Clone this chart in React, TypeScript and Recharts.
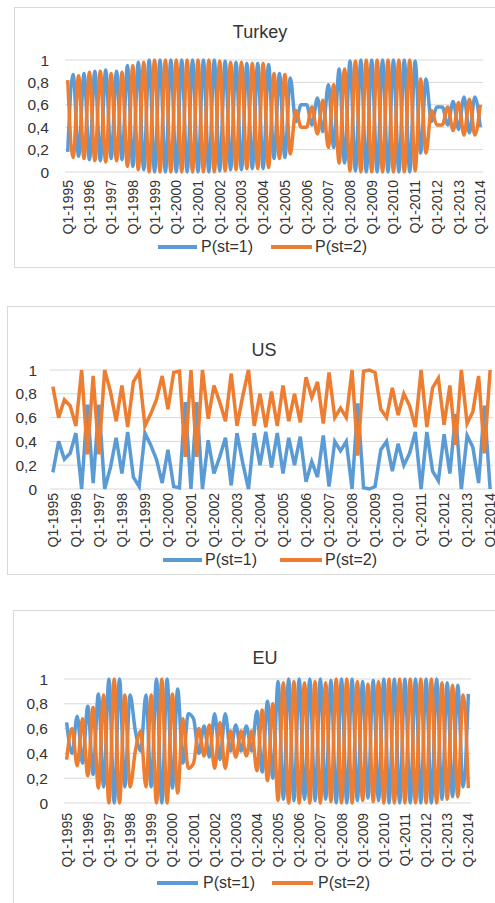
import { LineChart, Line, XAxis, YAxis, CartesianGrid } from 'recharts';

const years = [1995, 1996, 1997, 1998, 1999, 2000, 2001, 2002, 2003, 2004, 2005, 2006, 2007, 2008, 2009, 2010, 2011, 2012, 2013, 2014];
const quarters = ['Q1', 'Q2', 'Q3', 'Q4'];
// Q1-1995 .. Q1-2014
const periods = years.flatMap((y) => quarters.map((q) => `${q}-${y}`)).slice(0, 77);
const yTicks = [0, 0.2, 0.4, 0.6, 0.8, 1];
const seriesNames = ['P(st=1)', 'P(st=2)'];

const turkeyP1 = [
  0.18, 0.87, 0.14, 0.88, 0.11, 0.90, 0.10, 0.91, 0.12, 0.90,
  0.11, 0.95, 0.05, 0.98, 0.02, 1.00, 0.00, 1.00, 0.00, 1.00,
  0.00, 1.00, 0.00, 1.00, 0.00, 1.00, 0.00, 1.00, 0.01, 0.99,
  0.02, 0.98, 0.02, 0.97, 0.03, 0.97, 0.03, 0.96, 0.12, 0.88,
  0.13, 0.84, 0.45, 0.60, 0.60, 0.42, 0.66, 0.36, 0.78, 0.22,
  0.92, 0.08, 0.99, 0.01, 1.00, 0.00, 1.00, 0.00, 1.00, 0.00,
  1.00, 0.00, 1.00, 0.00, 0.99, 0.17, 0.83, 0.45, 0.58, 0.58,
  0.42, 0.63, 0.38, 0.67, 0.35, 0.67, 0.40,
];
const turkeyP2 = [
  0.82, 0.13, 0.86, 0.12, 0.89, 0.10, 0.90, 0.09, 0.88, 0.10,
  0.89, 0.05, 0.95, 0.02, 0.98, 0.00, 1.00, 0.00, 1.00, 0.00,
  1.00, 0.00, 1.00, 0.00, 1.00, 0.00, 1.00, 0.00, 0.99, 0.01,
  0.98, 0.02, 0.98, 0.03, 0.97, 0.03, 0.97, 0.04, 0.88, 0.12,
  0.87, 0.16, 0.55, 0.40, 0.40, 0.58, 0.34, 0.64, 0.22, 0.78,
  0.08, 0.92, 0.01, 0.99, 0.00, 1.00, 0.00, 1.00, 0.00, 1.00,
  0.00, 1.00, 0.00, 1.00, 0.01, 0.83, 0.17, 0.55, 0.42, 0.42,
  0.58, 0.37, 0.62, 0.33, 0.65, 0.33, 0.60,
];

const usP1 = [
  0.14, 0.40, 0.25, 0.30, 0.47, 0.00, 0.71, 0.05, 0.71, 0.00,
  0.18, 0.43, 0.13, 0.48, 0.10, 0.02, 0.47, 0.37, 0.25, 0.05,
  0.33, 0.02, 0.01, 0.73, 0.00, 0.73, 0.00, 0.41, 0.13, 0.27,
  0.43, 0.03, 0.47, 0.22, 0.00, 0.47, 0.20, 0.48, 0.18, 0.47,
  0.13, 0.43, 0.20, 0.44, 0.06, 0.23, 0.10, 0.45, 0.02, 0.40,
  0.32, 0.40, 0.00, 0.72, 0.01, 0.00, 0.02, 0.33, 0.40, 0.15,
  0.38, 0.20, 0.30, 0.48, 0.00, 0.48, 0.15, 0.07, 0.46, 0.13,
  0.63, 0.00, 0.45, 0.35, 0.05, 0.70, 0.00,
];
const usP2 = [
  0.86, 0.60, 0.75, 0.70, 0.53, 1.00, 0.29, 0.95, 0.29, 1.00,
  0.82, 0.57, 0.87, 0.52, 0.90, 0.98, 0.53, 0.63, 0.75, 0.95,
  0.67, 0.98, 0.99, 0.27, 1.00, 0.27, 1.00, 0.59, 0.87, 0.73,
  0.57, 0.97, 0.53, 0.78, 1.00, 0.53, 0.80, 0.52, 0.82, 0.53,
  0.87, 0.57, 0.80, 0.56, 0.94, 0.77, 0.90, 0.55, 0.98, 0.60,
  0.68, 0.60, 1.00, 0.28, 0.99, 1.00, 0.98, 0.67, 0.60, 0.85,
  0.62, 0.80, 0.70, 0.52, 1.00, 0.52, 0.85, 0.93, 0.54, 0.87,
  0.37, 1.00, 0.55, 0.65, 0.95, 0.30, 1.00,
];

const euP1 = [
  0.65, 0.40, 0.70, 0.32, 0.78, 0.23, 0.88, 0.13, 1.00, 0.00,
  1.00, 0.13, 0.87, 0.58, 0.42, 0.87, 0.13, 1.00, 0.00, 1.00,
  0.12, 0.92, 0.32, 0.72, 0.68, 0.40, 0.62, 0.37, 0.72, 0.35,
  0.72, 0.42, 0.63, 0.42, 0.62, 0.42, 0.74, 0.25, 0.82, 0.20,
  0.98, 0.03, 1.00, 0.02, 1.00, 0.03, 1.00, 0.02, 1.00, 0.03,
  0.99, 0.00, 1.00, 0.00, 1.00, 0.02, 0.98, 0.04, 0.99, 0.02,
  1.00, 0.00, 1.00, 0.00, 1.00, 0.00, 1.00, 0.00, 1.00, 0.00,
  1.00, 0.03, 0.97, 0.05, 0.95, 0.13, 0.88,
];
const euP2 = [
  0.35, 0.60, 0.30, 0.68, 0.22, 0.77, 0.12, 0.87, 0.00, 1.00,
  0.00, 0.87, 0.13, 0.42, 0.58, 0.13, 0.87, 0.00, 1.00, 0.00,
  0.88, 0.08, 0.68, 0.28, 0.32, 0.60, 0.38, 0.63, 0.28, 0.65,
  0.28, 0.58, 0.37, 0.58, 0.38, 0.58, 0.26, 0.75, 0.18, 0.80,
  0.02, 0.97, 0.00, 0.98, 0.00, 0.97, 0.00, 0.98, 0.00, 0.97,
  0.01, 1.00, 0.00, 1.00, 0.00, 0.98, 0.02, 0.96, 0.01, 0.98,
  0.00, 1.00, 0.00, 1.00, 0.00, 1.00, 0.00, 1.00, 0.00, 1.00,
  0.00, 0.97, 0.03, 0.95, 0.05, 0.87, 0.12,
];

const BLUE = '#5B9BD5';
const ORANGE = '#ED7D31';
const TEXT = '#333333';
const GRID = '#d9d9d9';
const FONT = '"Liberation Sans", Arial, sans-serif';
const PAGE_W = 495;

interface Row {
  period: string;
  p1: number;
  p2: number;
}

function buildRows(p1: number[], p2: number[]): Row[] {
  return periods.map((period, i) => ({ period, p1: p1[i], p2: p2[i] }));
}

function QuarterTick({ x, y, payload }: any) {
  return (
    <text
      x={x}
      y={y}
      dy={5}
      textAnchor="end"
      transform={`rotate(-90, ${x}, ${y})`}
      fontSize={14}
      fontFamily={FONT}
      fill={TEXT}
    >
      {payload.value}
    </text>
  );
}

interface PanelProps {
  title: string;
  rows: Row[];
  curve: 'monotoneX' | 'linear';
  box: { left: number; top: number; width: number; height: number };
  titleAt: [number, number];
  plot: { left: number; right: number; top: number; bottom: number };
  yGap: number;
  xGap: number;
  legendY: number;
  legendItems: [number, number, number][]; // line start, line end, text left
}

function Panel({ title, rows, curve, box, titleAt, plot, yGap, xGap, legendY, legendItems }: PanelProps) {
  const chartTop = plot.top - 10;
  const axisH = 70;
  const chartH = plot.bottom - chartTop + axisH;
  const halfStep = (plot.right - plot.left) / rows.length / 2;
  const colors = [BLUE, ORANGE];

  return (
    <>
      <div
        style={{
          position: 'absolute',
          left: box.left,
          top: box.top,
          width: box.width,
          height: box.height,
          border: `1px solid ${GRID}`,
          boxSizing: 'border-box',
        }}
      />
      <div
        style={{
          position: 'absolute',
          left: titleAt[0] - 100,
          top: titleAt[1] - 11,
          width: 200,
          lineHeight: '22px',
          textAlign: 'center',
          fontSize: 18,
          color: TEXT,
        }}
      >
        {title}
      </div>
      <div style={{ position: 'absolute', left: 0, top: chartTop }}>
        <LineChart
          width={PAGE_W}
          height={chartH}
          data={rows}
          margin={{ top: 10, right: PAGE_W - plot.right, left: 0, bottom: 0 }}
        >
          <CartesianGrid vertical={false} stroke={GRID} />
          <XAxis
            dataKey="period"
            height={axisH}
            interval={3}
            axisLine={false}
            tickLine={false}
            tickSize={0}
            tickMargin={xGap}
            padding={{ left: halfStep, right: halfStep }}
            tick={QuarterTick}
          />
          <YAxis
            width={plot.left}
            domain={[0, 1]}
            ticks={yTicks}
            interval={0}
            axisLine={false}
            tickLine={false}
            tickSize={0}
            tickMargin={yGap}
            tickFormatter={(v: number) => String(v).replace('.', ',')}
            tick={{ fontSize: 15.5, fill: TEXT, fontFamily: FONT }}
          />
          <Line
            type={curve}
            dataKey="p1"
            name={seriesNames[0]}
            stroke={BLUE}
            strokeWidth={3.5}
            dot={false}
            isAnimationActive={false}
          />
          <Line
            type={curve}
            dataKey="p2"
            name={seriesNames[1]}
            stroke={ORANGE}
            strokeWidth={3.5}
            dot={false}
            isAnimationActive={false}
          />
        </LineChart>
      </div>
      {legendItems.map(([x1, x2, tx], i) => (
        <div key={seriesNames[i]}>
          <div
            style={{
              position: 'absolute',
              left: x1,
              top: legendY - 2,
              width: x2 - x1,
              height: 4,
              background: colors[i],
            }}
          />
          <div
            style={{
              position: 'absolute',
              left: tx,
              top: legendY - 10,
              lineHeight: '20px',
              fontSize: 16,
              color: TEXT,
              whiteSpace: 'nowrap',
            }}
          >
            {seriesNames[i]}
          </div>
        </div>
      ))}
    </>
  );
}

export default function App() {
  return (
    <div
      style={{
        position: 'absolute',
        left: 0,
        top: 0,
        width: PAGE_W,
        height: 903,
        overflow: 'hidden',
        background: '#fff',
        fontFamily: FONT,
      }}
    >
      <Panel
        title="Turkey"
        rows={buildRows(turkeyP1, turkeyP2)}
        curve="monotoneX"
        box={{ left: 14, top: 7, width: 500, height: 261 }}
        titleAt={[260, 32]}
        plot={{ left: 65, right: 483, top: 60, bottom: 172 }}
        yGap={16}
        xGap={8}
        legendY={247}
        legendItems={[[158, 197, 201], [271, 312, 315]]}
      />
      <Panel
        title="US"
        rows={buildRows(usP1, usP2)}
        curve="linear"
        box={{ left: 7, top: 306, width: 500, height: 269 }}
        titleAt={[264, 350]}
        plot={{ left: 50, right: 493, top: 370, bottom: 489 }}
        yGap={13}
        xGap={4}
        legendY={560}
        legendItems={[[163, 202, 205], [280, 322, 325]]}
      />
      <Panel
        title="EU"
        rows={buildRows(euP1, euP2)}
        curve="monotoneX"
        box={{ left: 13, top: 610, width: 500, height: 320 }}
        titleAt={[265, 658]}
        plot={{ left: 64, right: 471, top: 679, bottom: 803 }}
        yGap={16}
        xGap={10}
        legendY={883}
        legendItems={[[157, 198, 203], [272, 313, 318]]}
      />
    </div>
  );
}
